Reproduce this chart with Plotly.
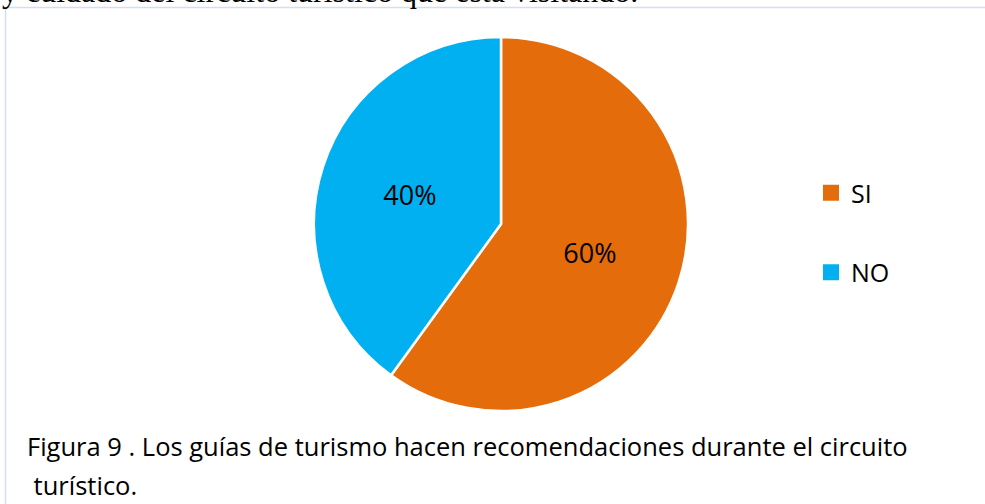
import plotly.graph_objects as go

labels = ["SI", "NO"]
values = [60, 40]
colors = ["#E46C0A", "#00B0F0"]
top_text = "y cuidado del circuito turístico que está visitando."
caption_1 = "Figura 9 . Los guías de turismo hacen recomendaciones durante el circuito"
caption_2 = " turístico."

W, H = 985, 504
FONT = "Open Sans"

fig = go.Figure()
fig.add_trace(go.Pie(
    labels=labels, values=values, sort=False, direction="clockwise", rotation=0,
    marker=dict(colors=colors, line=dict(color="white", width=2.5)),
    textinfo="percent", textposition="inside", insidetextorientation="horizontal",
    textfont=dict(family=FONT, size=27, color="black"),
    domain=dict(x=[313 / W, 689 / W], y=[(H - 411) / H, (H - 37) / H]),
    showlegend=False, hoverinfo="label+percent",
))
for lab, col in zip(labels, colors):
    fig.add_trace(go.Scatter(
        x=[None], y=[None], mode="markers", name=lab, legendgroup=lab,
        marker=dict(symbol="square", size=17, color=col),
    ))

fig.update_layout(
    width=W, height=H, margin=dict(l=0, r=0, t=0, b=0),
    paper_bgcolor="white", plot_bgcolor="white",
    xaxis=dict(visible=False), yaxis=dict(visible=False),
    legend=dict(x=811 / W, y=(H - 170) / H, xanchor="left", yanchor="top",
                font=dict(family=FONT, size=25, color="black"),
                tracegroupgap=44, bgcolor="rgba(0,0,0,0)", itemwidth=30,
                itemsizing="trace"),
    shapes=[dict(type="rect", xref="paper", yref="paper", layer="above",
                 x0=5.5 / W, x1=1.2, y0=-0.2, y1=(H - 7.5) / H,
                 line=dict(color="#D5DFEC", width=1.5))],
    annotations=[
        dict(text=top_text, xref="paper", yref="paper", x=0, y=(H - 11.5) / H,
             xanchor="left", yanchor="bottom", showarrow=False,
             font=dict(family="Liberation Serif", size=32, color="black")),
        dict(text=caption_1, xref="paper", yref="paper", x=25 / W, y=(H - 446) / H,
             xanchor="left", yanchor="middle", showarrow=False,
             font=dict(family=FONT, size=25.5, color="black")),
        dict(text=caption_2, xref="paper", yref="paper", x=25 / W, y=(H - 485) / H,
             xanchor="left", yanchor="middle", showarrow=False,
             font=dict(family=FONT, size=25.5, color="black")),
    ],
)
fig.write_html("out.html", config={"displayModeBar": False},
               post_script="document.body.style.margin='0';")
